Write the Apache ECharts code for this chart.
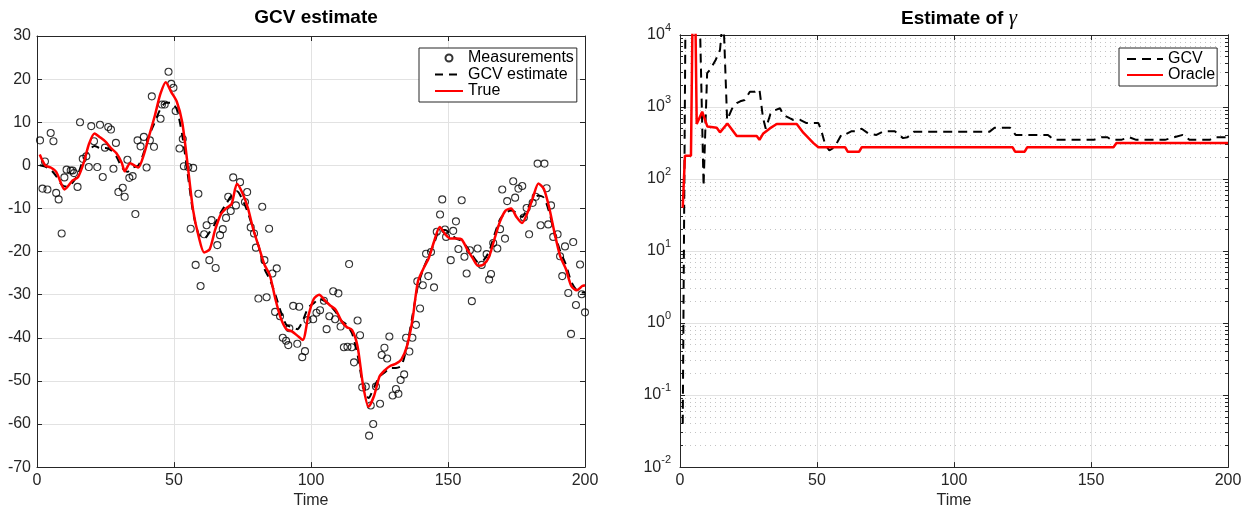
<!DOCTYPE html>
<html>
<head>
<meta charset="utf-8">
<title>GCV estimate</title>
<script src="https://cdn.jsdelivr.net/npm/echarts@6/dist/echarts.min.js"></script>
<style>
html, body { margin: 0; padding: 0; background: #fff; }
#chart { width: 1250px; height: 514px; }
</style>
</head>
<body>
<div id="chart"></div>
<script>
// noisy measurements (time, value)
var measT = [1.1,2.0,2.9,3.8,5.0,6.0,7.0,7.9,9.0,10.0,10.8,12.3,13.0,13.5,14.8,15.7,16.7,18.0,18.9,19.8,20.8,22.0,23.0,24.0,24.8,26.0,27.0,27.9,28.8,29.7,31.3,32.0,33.0,33.7,34.9,35.9,36.7,37.8,39.0,40.0,41.2,41.9,42.7,45.1,45.6,46.6,48.0,49.0,49.8,50.6,52.0,53.2,53.6,55.2,56.1,57.0,57.9,58.9,59.7,61.0,61.9,62.9,63.7,65.2,65.8,66.8,67.8,69.0,69.8,70.7,71.6,72.6,74.1,75.9,76.7,78.0,79.2,79.9,80.8,82.2,83.0,83.8,84.7,85.9,86.9,87.5,88.7,89.7,90.9,91.7,92.1,93.5,95.0,95.7,96.8,97.8,98.7,100.8,102.0,103.3,104.7,105.7,106.7,108.1,108.8,110.0,110.8,112.0,113.3,113.9,114.9,115.7,117.0,117.9,118.7,120.0,121.2,121.8,122.7,123.7,125.2,125.8,126.8,127.8,128.6,129.8,131.0,131.9,132.7,134.0,134.7,135.9,137.0,138.3,138.8,139.8,140.8,142.0,142.8,143.8,144.9,145.9,147.1,147.9,148.9,149.3,151.0,151.9,152.9,153.8,155.0,156.0,156.8,158.0,158.7,160.8,162.3,164.1,165.0,165.7,166.5,168.0,169.0,169.8,170.8,171.6,173.8,174.5,175.7,177.1,177.7,178.7,179.6,180.9,182.0,182.7,183.8,185.2,186.0,186.6,187.6,188.4,190.0,190.9,191.7,192.7,193.9,194.9,195.7,196.7,198.2,198.8,200.0];
var measV = [5.8,-5.4,0.9,-5.6,7.5,5.6,-6.4,-7.9,-15.8,-2.8,-1.0,-1.2,-1.2,-1.8,-5.0,10.0,1.5,2.1,-0.4,9.1,5.6,-0.4,9.4,-2.7,4.1,8.9,8.3,-0.8,5.2,-6.2,-5.2,-7.3,1.3,-2.9,-2.5,-11.3,5.8,4.4,6.6,-0.5,5.8,16.0,4.3,10.8,14.1,14.1,21.7,18.9,18.0,12.6,3.9,6.1,-0.2,-0.4,-14.7,-0.6,-23.1,-6.6,-28.0,-16.0,-13.9,-22.0,-12.7,-23.8,-18.5,-16.2,-14.8,-12.2,-7.3,-10.6,-2.8,-9.3,-3.9,-8.5,-6.2,-14.4,-15.8,-19.1,-30.9,-9.6,-22.0,-30.6,-14.7,-25.1,-34.0,-23.9,-35.0,-40.0,-40.7,-41.7,-37.8,-32.6,-41.4,-32.8,-44.5,-43.1,-35.9,-35.7,-34.2,-33.6,-31.4,-38.0,-35.0,-29.2,-35.7,-29.7,-37.4,-42.2,-42.1,-22.9,-42.2,-45.7,-36.0,-39.4,-51.5,-51.3,-62.7,-55.7,-60.0,-51.3,-55.3,-44.0,-42.3,-44.8,-39.7,-53.4,-51.9,-53.0,-49.8,-48.5,-40.0,-43.2,-40.0,-37.0,-26.9,-33.2,-27.8,-20.5,-25.7,-20.1,-28.3,-15.4,-11.4,-7.9,-14.9,-16.6,-22.0,-15.2,-13.0,-19.4,-8.1,-21.2,-25.1,-19.7,-31.5,-19.3,-23.1,-20.6,-26.5,-25.2,-18.0,-19.3,-14.8,-5.6,-17.0,-8.3,-3.7,-7.5,-5.4,-4.8,-12.1,-9.9,-16.0,-8.7,-7.3,0.4,-13.9,0.4,-5.3,-13.7,-9.3,-16.6,-16.0,-21.1,-25.7,-18.8,-29.6,-39.1,-17.8,-32.4,-23.0,-29.9,-34.1];

// true signal
var trueT = [1,3,5,7,9,10,13,15,17,19,21,23,25,27,29,31,32,34,36,37,39,41,43,45,47,49,51,53,55,57,59,61,63,65,67,69,71,73,75,77,79,81,83,85,87,89,91,93,95,97,99,101,103,105,107,109,111,113,115,117,119,121,123,125,127,129,131,133,135,137,139,141,143,145,147,149,151,153,155,157,159,161,163,165,167,169,171,173,175,177,179,181,183,185,187,189,191,193,195,197,199,200];
var trueV = [2.5,0,-0.5,-1.5,-4.5,-5.6,-3.5,-2.7,0.5,5,7.4,6.5,5.5,4,2.8,0.5,-1.4,0.5,-0.2,-0.5,2.5,7,11.5,16.5,19.3,17,14.8,10,0,-10.5,-16.5,-20.2,-19.5,-15,-11.5,-10,-9,-4.3,-6.5,-10,-15,-19,-23,-25.5,-31,-35.5,-38,-38.5,-39.5,-40.5,-35,-31,-30,-31.3,-32.5,-33.5,-36,-37.5,-38.2,-42,-51,-56,-53.5,-49,-47.5,-46.5,-46,-45,-42,-36,-27,-24,-21.5,-17.5,-14.3,-16,-17,-17,-17.2,-19.5,-21.5,-23.3,-23,-21.2,-17,-13,-10.5,-10,-12,-13.4,-11,-7.5,-4.2,-5.5,-10,-16,-21.2,-24,-28,-29,-28,-27.8];

// GCV estimate of the signal
var gcvT = [1,3,5,7,9,11,13,15,17,19,21,23,25,27,29,31,33,35,37,39,41,43,45,47,49,51,53,55,57,59,61,63,65,67,69,71,73,75,77,79,81,83,85,87,89,91,93,95,97,99,101,103,105,107,109,111,113,115,117,119,121,123,125,127,129,131,133,135,137,139,141,143,145,147,149,151,153,155,157,159,161,163,165,167,169,171,173,175,177,179,181,183,185,187,189,191,193,195,197,199,200];
var gcvV = [0,-0.3,-1,-2.5,-4.5,-5,-4,-2,1.5,3.5,4.5,4,4,3.5,2,-0.5,-1.5,-0.5,0,3,7,10,13,14.5,14.5,13,7,-2,-11,-16,-17,-15.5,-13.5,-11,-9,-7,-6,-8,-11,-15,-19,-24,-26.5,-30,-34,-37,-37.5,-38,-36,-33,-32,-31,-31.5,-32.5,-34,-36,-37,-39,-44,-51,-54,-51.5,-49,-48,-47,-47,-46.5,-42,-35,-28,-24,-21,-18,-15,-15,-16,-17,-17.5,-19,-21,-22.5,-22,-20,-16,-12.5,-11,-10.5,-11,-12,-10,-8,-7,-7.5,-11,-16,-20,-23,-27,-29,-29.5,-29.5];

// estimate of gamma (log scale)
var gammaGcvT = [1,2,7.2,8.6,9.9,11,13,14.6,15.8,16.4,17.2,19,20.7,22,23.6,25.5,27.3,29,30.3,31.3,33,34.5,36.5,37.7,40,41.4,44,46,50.5,51.5,53,54.5,56,57.5,59,60.5,62.5,64,66.3,68.7,71.7,74.2,78.4,81.4,83,85.5,113,114.8,120.5,122.5,134.3,136.5,151,153.8,156,157.4,161,164,166.5,177,183.5,186,193.3,195,200];
var gammaGcvV = [0.04,20000,20000,80,2950,3300,4500,6200,20000,20000,660,950,1130,1200,1250,1630,1630,1750,700,500,800,900,960,780,700,660,660,600,600,480,300,250,270,330,420,420,460,460,500,430,410,460,460,370,380,455,455,515,515,410,410,350,350,380,380,350,350,380,350,350,410,350,350,380,380];
var oracleT = [1,1.8,4,4.6,5.6,6.1,8.1,10,13.4,14.6,17.3,20.7,28,29,30.4,32.8,35.3,42.6,45,48.7,50.5,60.3,61.2,65.4,66.3,121.4,122.3,125.8,126.7,158.2,159.3,200];
var oracleV = [40,210,210,20000,20000,580,860,535,515,445,590,395,395,350,430,505,580,580,440,315,276,276,240,240,276,276,240,240,276,276,317,317];

var FONT = '"Liberation Sans", Arial, sans-serif';
var AX = '#262626';
var GRIDC = '#e2e2e2';

function pairs(xs, ys) {
  return xs.map(function (x, i) { return [x, ys[i]]; });
}

var minorVals = [];
for (var e = -2; e < 4; e++) {
  for (var m = 2; m < 10; m++) minorVals.push(+(m * Math.pow(10, e)).toPrecision(3));
}

function frameAxis(extra) {
  var a = {
    axisLine: { show: true, onZero: false, lineStyle: { color: AX, width: 1 } },
    axisTick: { show: true, inside: true, length: 5, lineStyle: { color: AX } },
    axisLabel: { show: false },
    splitLine: { show: false }
  };
  for (var k in extra) a[k] = extra[k];
  return a;
}

var labelStyle = { color: AX, fontSize: 16, fontFamily: FONT };
var noMarker = { color: 'rgba(0,0,0,0)', borderWidth: 0 };

var myChart = echarts.init(document.getElementById('chart'), null, { renderer: 'canvas' });

var option = {
  animation: false,
  backgroundColor: '#fff',
  textStyle: { fontFamily: FONT },
  title: [
    { text: 'GCV estimate', left: 311, top: 3, textAlign: 'center',
      textStyle: { fontSize: 19, fontWeight: 'bold', color: '#000', fontFamily: FONT } },
    { text: 'Estimate of {g|γ}', left: 954, top: 3, textAlign: 'center',
      textStyle: { fontSize: 19, fontWeight: 'bold', color: '#000', fontFamily: FONT,
        rich: { g: { fontSize: 21, fontStyle: 'italic', fontWeight: 'normal', fontFamily: '"Liberation Serif", serif', color: '#000' } } } }
  ],
  legend: [
    { data: [
        { name: 'Measurements' },
        { name: 'GCV estimate', itemStyle: noMarker },
        { name: 'True', itemStyle: noMarker }
      ],
      orient: 'vertical', left: 419, top: 48,
      backgroundColor: '#fff', borderColor: AX, borderWidth: 1, borderRadius: 0,
      padding: [2, 3, 3, 15], itemWidth: 28, itemHeight: 7, itemGap: 0.5,
      textStyle: { fontSize: 16, lineHeight: 16, color: '#000', fontFamily: FONT } },
    { data: [
        { name: 'GCV', itemStyle: noMarker },
        { name: 'Oracle', itemStyle: noMarker }
      ],
      orient: 'vertical', left: 1119, top: 48,
      backgroundColor: '#fff', borderColor: AX, borderWidth: 1, borderRadius: 0,
      padding: [3, 2, 3, 7], itemWidth: 36, itemHeight: 7, itemGap: 0,
      textStyle: { fontSize: 16, lineHeight: 16, color: '#000', fontFamily: FONT } }
  ],
  grid: [
    { left: 37, right: 665, top: 36, bottom: 46 },
    { left: 680, right: 22, top: 35, bottom: 46 }
  ],
  xAxis: [
    { gridIndex: 0, type: 'value', min: 0, max: 200, interval: 50, position: 'bottom',
      axisLine: { show: true, onZero: false, lineStyle: { color: AX } },
      axisTick: { inside: true, length: 5, lineStyle: { color: AX } },
      axisLabel: { margin: 5, color: AX, fontSize: 16, fontFamily: FONT },
      splitLine: { show: true, lineStyle: { color: GRIDC } },
      name: 'Time', nameLocation: 'middle', nameGap: 23,
      nameTextStyle: labelStyle },
    frameAxis({ gridIndex: 0, type: 'value', min: 0, max: 200, interval: 50, position: 'top' }),
    { gridIndex: 1, type: 'value', min: 0, max: 200, interval: 50, position: 'bottom',
      axisLine: { show: true, onZero: false, lineStyle: { color: AX } },
      axisTick: { inside: true, length: 5, lineStyle: { color: AX } },
      axisLabel: { margin: 5, color: AX, fontSize: 16, fontFamily: FONT },
      splitLine: { show: true, lineStyle: { color: GRIDC } },
      name: 'Time', nameLocation: 'middle', nameGap: 23,
      nameTextStyle: labelStyle },
    frameAxis({ gridIndex: 1, type: 'value', min: 0, max: 200, interval: 50, position: 'top' })
  ],
  yAxis: [
    { gridIndex: 0, type: 'value', min: -70, max: 30, interval: 10, position: 'left',
      axisLine: { show: true, onZero: false, lineStyle: { color: AX } },
      axisTick: { inside: true, length: 5, lineStyle: { color: AX } },
      axisLabel: { margin: 6, color: AX, fontSize: 16, fontFamily: FONT },
      splitLine: { show: true, lineStyle: { color: GRIDC } } },
    frameAxis({ gridIndex: 0, type: 'value', min: -70, max: 30, interval: 10, position: 'right' }),
    { gridIndex: 1, type: 'log', logBase: 10, min: 0.01, max: 10000, splitNumber: 6, position: 'left',
      axisLine: { show: true, onZero: false, lineStyle: { color: AX } },
      axisTick: { inside: true, length: 5, lineStyle: { color: AX } },
      axisLabel: { margin: 9, color: AX, fontFamily: FONT,
        formatter: function (v) { return '{b|10}{s|' + Math.round(Math.log10(v)) + '}'; },
        rich: {
          b: { fontSize: 16, lineHeight: 16, verticalAlign: 'bottom', color: AX, fontFamily: FONT },
          s: { fontSize: 11, lineHeight: 11, padding: [0, 0, 10, 0], verticalAlign: 'bottom', color: AX, fontFamily: FONT }
        } },
      splitLine: { show: true, lineStyle: { color: GRIDC } } },
    frameAxis({ gridIndex: 1, type: 'log', logBase: 10, min: 0.01, max: 10000, splitNumber: 6, position: 'right' }),
    // minor ticks + dotted minor grid (left side)
    frameAxis({ gridIndex: 1, type: 'log', logBase: 10, min: 0.01, max: 10000, position: 'right',
      axisTick: { show: true, inside: true, length: 3, customValues: minorVals, lineStyle: { color: AX } },
      splitLine: { show: true, lineStyle: { color: '#c4c4c4', type: [1, 4] } } }),
    // minor ticks (right side)
    frameAxis({ gridIndex: 1, type: 'log', logBase: 10, min: 0.01, max: 10000, position: 'left',
      axisTick: { show: true, inside: true, length: 3, customValues: minorVals, lineStyle: { color: AX } } })
  ],
  series: [
    { name: 'Measurements', type: 'scatter', xAxisIndex: 0, yAxisIndex: 0,
      symbol: 'circle', symbolSize: 7,
      itemStyle: { color: 'rgba(0,0,0,0)', borderColor: '#000', borderWidth: 1.1 },
      data: pairs(measT, measV) },
    { name: 'GCV estimate', type: 'line', xAxisIndex: 0, yAxisIndex: 0,
      symbol: 'none', smooth: 0.25,
      lineStyle: { color: '#000', width: 2, type: [8, 6] }, itemStyle: { color: '#000' },
      data: pairs(gcvT, gcvV) },
    { name: 'True', type: 'line', xAxisIndex: 0, yAxisIndex: 0,
      symbol: 'none', smooth: 0.25,
      lineStyle: { color: '#ff0000', width: 2.5 }, itemStyle: { color: '#ff0000' },
      data: pairs(trueT, trueV) },
    { name: 'GCV', type: 'line', xAxisIndex: 2, yAxisIndex: 2,
      symbol: 'none',
      lineStyle: { color: '#000', width: 2, type: [9, 6] }, itemStyle: { color: '#000' },
      data: pairs(gammaGcvT, gammaGcvV) },
    { name: 'Oracle', type: 'line', xAxisIndex: 2, yAxisIndex: 2,
      symbol: 'none',
      lineStyle: { color: '#ff0000', width: 2.5 }, itemStyle: { color: '#ff0000' },
      data: pairs(oracleT, oracleV) }
  ]
};

myChart.setOption(option);
</script>
</body>
</html>
